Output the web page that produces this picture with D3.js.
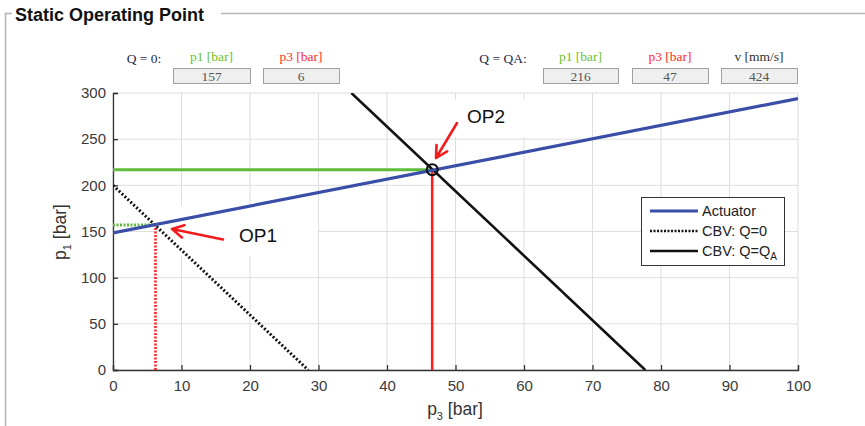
<!DOCTYPE html>
<html>
<head>
<meta charset="utf-8">
<script src="https://cdn.jsdelivr.net/npm/d3@7"></script>
<style>
  body { margin: 0; background: #fff; }
  svg { display: block; }
</style>
</head>
<body>
<div id="chart"></div>
<script>
// chart data
const xTicks = [0, 10, 20, 30, 40, 50, 60, 70, 80, 90, 100];
const yTicks = [0, 50, 100, 150, 200, 250, 300];
const actuatorP3 = [0, 100];
const actuatorP1 = [148.5, 294];
const cbvZeroP3 = [0, 28.5];
const cbvZeroP1 = [200, 0];
const cbvQaP3 = [34.8, 77.7];
const cbvQaP1 = [300, 0];
const op1 = [6.2, 157];   // [p3, p1]
const op2 = [46.6, 217];
const legendLabels = ['Actuator', 'CBV: Q=0', 'CBV: Q=Q'];
const readoutHeads = ['p1 [bar]', 'p3 [bar]', 'p1 [bar]', 'p3 [bar]', 'v [mm/s]'];
const readoutValues = ['157', '6', '216', '47', '424'];

const width = 865, height = 426;
const margin = { left: 113, right: 67, top: 93, bottom: 56 };

const svg = d3.select('#chart').append('svg')
    .attr('width', width)
    .attr('height', height);

// panel frame + title
svg.append('path')
    .attr('d', `M12,13.5 H5.5 V${height} M221,13.5 H${width}`)
    .attr('fill', 'none')
    .attr('stroke', '#b4b4b4')
    .attr('stroke-width', 1.5);
svg.append('text')
    .attr('x', 15).attr('y', 20.5)
    .attr('font-family', 'Arial, Liberation Sans, sans-serif')
    .attr('font-weight', 'bold')
    .attr('font-size', 18)
    .attr('fill', '#111')
    .text('Static Operating Point');

// readouts on top
const serif = 'Liberation Serif, Times New Roman, serif';
const boxes = [[173, 250], [263, 339], [543, 618], [632, 708], [721, 797]];
const headColors = ['#6cbf2a', '#ff2a2a', '#6cbf2a', '#ff2a2a', '#333'];
svg.append('text').attr('x', 144).attr('y', 63).attr('text-anchor', 'middle')
    .attr('font-family', serif).attr('font-size', 13.5).attr('fill', '#1f2a50')
    .text('Q = 0:');
svg.append('text').attr('x', 503).attr('y', 63).attr('text-anchor', 'middle')
    .attr('font-family', serif).attr('font-size', 13.5).attr('fill', '#1f2a50')
    .text('Q = QA:');
boxes.forEach(function (b, i) {
    const cx = (b[0] + b[1]) / 2;
    svg.append('text').attr('x', cx).attr('y', 61).attr('text-anchor', 'middle')
        .attr('font-family', serif).attr('font-size', 13.5).attr('fill', headColors[i])
        .text(readoutHeads[i]);
    svg.append('rect').attr('x', b[0] + 0.5).attr('y', 68.5)
        .attr('width', b[1] - b[0]).attr('height', 15)
        .attr('fill', '#efefef').attr('stroke', '#a0a0a0');
    svg.append('text').attr('x', cx).attr('y', 80.5).attr('text-anchor', 'middle')
        .attr('font-family', serif).attr('font-size', 13.5).attr('fill', '#555')
        .text(readoutValues[i]);
});

// scales
const x = d3.scaleLinear().domain([0, 100]).range([margin.left, width - margin.right]);
const y = d3.scaleLinear().domain([0, 300]).range([height - margin.bottom, margin.top]);

const g = svg.append('g');

// grid
g.append('g').selectAll('line').data(xTicks).join('line')
    .attr('x1', d => x(d)).attr('x2', d => x(d))
    .attr('y1', y(0)).attr('y2', y(300))
    .attr('stroke', '#dedede').attr('stroke-width', 1);
g.append('g').selectAll('line').data(yTicks).join('line')
    .attr('x1', x(0)).attr('x2', x(100))
    .attr('y1', d => y(d)).attr('y2', d => y(d))
    .attr('stroke', '#dedede').attr('stroke-width', 1);

// white patches behind annotations (they hide the grid)
g.append('rect').attr('x', 160).attr('y', 206).attr('width', 158).attr('height', 50).attr('fill', '#fff');
g.append('rect').attr('x', 440).attr('y', 100).attr('width', 86).attr('height', 37).attr('fill', '#fff');

// axes, ticks pointing in
const font = 'Arial, Liberation Sans, Helvetica, sans-serif';
const xAxis = g.append('g')
    .attr('transform', `translate(0,${y(0)})`)
    .call(d3.axisBottom(x).tickValues(xTicks).tickSizeInner(-5).tickSizeOuter(-5).tickPadding(10));
const yAxis = g.append('g')
    .attr('transform', `translate(${x(0)},0)`)
    .call(d3.axisLeft(y).tickValues(yTicks).tickSizeInner(-5).tickSizeOuter(-5).tickPadding(7));
[xAxis, yAxis].forEach(function (a) {
    a.select('.domain').attr('stroke', '#333').attr('stroke-width', 1.3);
    a.selectAll('.tick line').attr('stroke', '#333').attr('stroke-width', 1.3);
    a.selectAll('.tick text').attr('font-family', font).attr('font-size', 15).attr('fill', '#3a3a3a');
});

// clip to plot
svg.append('clipPath').attr('id', 'clip').append('rect')
    .attr('x', x(0)).attr('y', y(300)).attr('width', x(100) - x(0)).attr('height', y(0) - y(300));
const plot = g.append('g').attr('clip-path', 'url(#clip)');

const line = d3.line().x(d => x(d[0])).y(d => y(d[1]));
const pairs = (xs, ys) => xs.map((v, i) => [v, ys[i]]);

// operating point guides
plot.append('path').attr('d', line([[0, op2[1]], op2]))
    .attr('stroke', '#5fbb3c').attr('stroke-width', 3).attr('fill', 'none');
plot.append('path').attr('d', line([[op2[0], 0], op2]))
    .attr('stroke', '#ff2020').attr('stroke-width', 2.6).attr('fill', 'none');
plot.append('path').attr('d', line([[0, op1[1]], op1]))
    .attr('stroke', '#5fbb3c').attr('stroke-width', 3).attr('stroke-dasharray', '2,1.5').attr('fill', 'none');
plot.append('path').attr('d', line([[op1[0], 0], op1]))
    .attr('stroke', '#ff2020').attr('stroke-width', 2.6).attr('stroke-dasharray', '2,1.5').attr('fill', 'none');

// curves
plot.append('path').attr('d', line(pairs(cbvZeroP3, cbvZeroP1)))
    .attr('stroke', '#111').attr('stroke-width', 3).attr('stroke-dasharray', '2,2').attr('fill', 'none');
plot.append('path').attr('d', line(pairs(cbvQaP3, cbvQaP1)))
    .attr('stroke', '#111').attr('stroke-width', 2.6).attr('fill', 'none');
plot.append('path').attr('d', line(pairs(actuatorP3, actuatorP1)))
    .attr('stroke', '#3a4ea8').attr('stroke-width', 3.2).attr('fill', 'none');

// OP2 marker
g.append('circle').attr('cx', x(op2[0])).attr('cy', y(op2[1])).attr('r', 5.5)
    .attr('fill', 'none').attr('stroke', '#111').attr('stroke-width', 2);

// annotations: red arrows + labels
function arrow(x1, y1, x2, y2) {
    const a = Math.atan2(y2 - y1, x2 - x1), h = 13, w = 0.5;
    g.append('path')
        .attr('d', `M${x1},${y1} L${x2},${y2} M${x2 - h * Math.cos(a - w)},${y2 - h * Math.sin(a - w)} L${x2},${y2} L${x2 - h * Math.cos(a + w)},${y2 - h * Math.sin(a + w)}`)
        .attr('stroke', '#f21c1c').attr('stroke-width', 2.6).attr('fill', 'none')
        .attr('stroke-linecap', 'round').attr('stroke-linejoin', 'round');
}
arrow(223, 239.5, 172, 229);
arrow(457, 123, 436, 158);
g.append('text').attr('x', 239).attr('y', 242).attr('font-family', font).attr('font-size', 19).attr('fill', '#111').text('OP1');
g.append('text').attr('x', 467).attr('y', 123).attr('font-family', font).attr('font-size', 19).attr('fill', '#111').text('OP2');

// axis titles
const yl = svg.append('text')
    .attr('transform', `translate(66,232) rotate(-90)`)
    .attr('text-anchor', 'middle')
    .attr('font-family', font).attr('font-size', 17.5).attr('fill', '#333');
yl.append('tspan').text('p');
yl.append('tspan').attr('font-size', 11).attr('dy', 5).text('1');
yl.append('tspan').attr('dy', -5).text(' [bar]');
const xl = svg.append('text')
    .attr('x', 455).attr('y', 415)
    .attr('text-anchor', 'middle')
    .attr('font-family', font).attr('font-size', 17.5).attr('fill', '#333');
xl.append('tspan').text('p');
xl.append('tspan').attr('font-size', 11).attr('dy', 5).text('3');
xl.append('tspan').attr('dy', -5).text(' [bar]');

// legend
const lg = svg.append('g');
lg.append('rect').attr('x', 641.5).attr('y', 197.5).attr('width', 143).attr('height', 68)
    .attr('fill', '#fff').attr('stroke', '#333').attr('stroke-width', 1);
const legStroke = [
    { c: '#3a4ea8', w: 3.2, dash: null },
    { c: '#111', w: 2.6, dash: '2,1.5' },
    { c: '#111', w: 2.6, dash: null }
];
legendLabels.forEach(function (lab, i) {
    const yy = 211 + i * 20;
    lg.append('line').attr('x1', 650).attr('x2', 698).attr('y1', yy).attr('y2', yy)
        .attr('stroke', legStroke[i].c).attr('stroke-width', legStroke[i].w)
        .attr('stroke-dasharray', legStroke[i].dash);
    const t = lg.append('text').attr('x', 702).attr('y', yy + 5)
        .attr('font-family', font).attr('font-size', 14.5).attr('fill', '#222').text(lab);
    if (i === 2) t.append('tspan').attr('font-size', 10).attr('dy', 4).text('A');
});
</script>
</body>
</html>
